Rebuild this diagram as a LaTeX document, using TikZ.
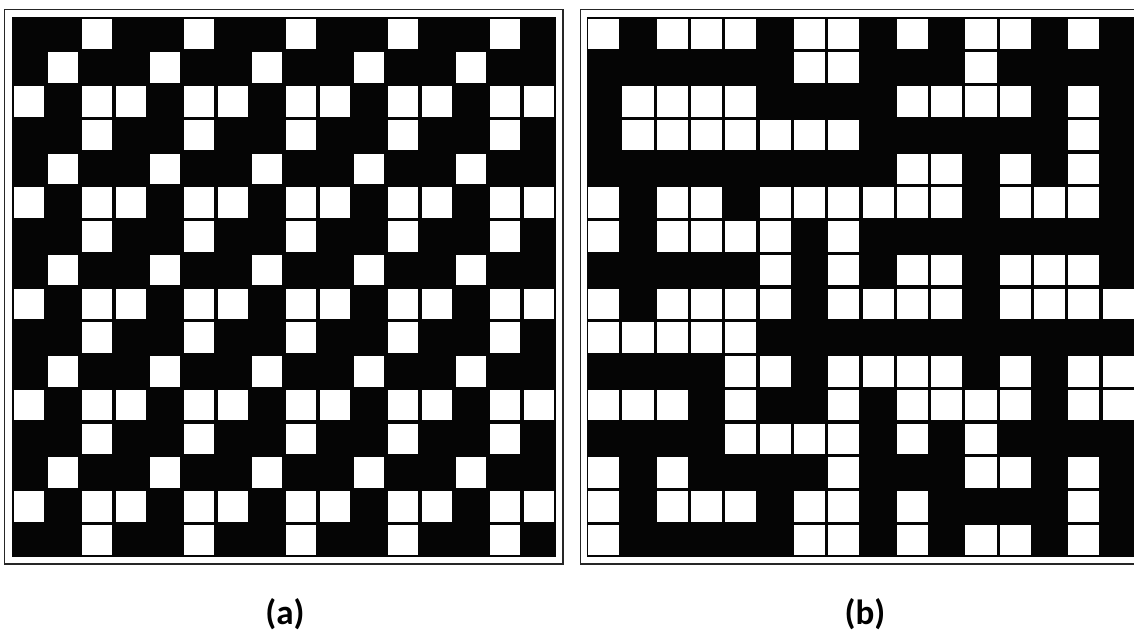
\documentclass[tikz,border=0pt]{standalone}
\usepackage{fontspec}
\setmainfont{Carlito}
\begin{document}
\begin{tikzpicture}[x=1pt,y=-1pt]
\tikzset{
  frame/.style={draw=black!85,line width=1.4pt},
  field/.style={fill=black!98},
  cellw/.style={fill=white},
  lab/.style={font=\bfseries\fontsize{35}{37}\selectfont, inner sep=0pt}
}
\useasboundingbox (0,0) rectangle (1134,632);
\clip (0,0) rectangle (1134,632);
% ---------- panel (a) ----------
\draw[frame] (4.5,9.5) rectangle (563,564);
\fill[field] (12,17) rectangle (556,557);
\def\cwa{34}\def\cha{33.75}
\foreach \r/\cols in {0/{2,5,8,11,14},1/{1,4,7,10,13},2/{0,2,3,5,6,8,9,11,12,14,15},
  3/{2,5,8,11,14},4/{1,4,7,10,13},5/{0,2,3,5,6,8,9,11,12,14,15},
  6/{2,5,8,11,14},7/{1,4,7,10,13},8/{0,2,3,5,6,8,9,11,12,14,15},
  9/{2,5,8,11,14},10/{1,4,7,10,13},11/{0,2,3,5,6,8,9,11,12,14,15},
  12/{2,5,8,11,14},13/{1,4,7,10,13},14/{0,2,3,5,6,8,9,11,12,14,15},
  15/{2,5,8,11,14}}{
  \foreach \c in \cols {
    \fill[cellw] ({12+\c*\cwa+1.6},{17+\r*\cha+1.6}) rectangle ++({\cwa-3.2},{\cha-3.2});
  }
}
% ---------- panel (b) ----------
\draw[frame] (580.5,9.5) rectangle (1143,564);
\fill[field] (586.5,17) rectangle (1135.3,557);
\def\cwb{34.3}\def\chb{33.75}
\foreach \r/\cols in {0/{0,2,3,4,6,7,9,11,12,14},1/{6,7,11},2/{1,2,3,4,9,10,11,12,14},
  3/{1,2,3,4,5,6,7,14},4/{9,10,12,14},5/{0,2,3,5,6,7,8,9,10,12,13,14},
  6/{0,2,3,4,5,7},7/{5,7,9,10,12,13,14},8/{0,2,3,4,5,7,8,9,10,12,13,14,15},
  9/{0,1,2,3,4},10/{4,5,7,8,9,10,12,14,15},11/{0,1,2,4,7,9,10,11,12,14,15},
  12/{4,5,6,7,9,11},13/{0,2,7,11,12,14},14/{0,2,3,4,6,7,9,14},
  15/{0,6,7,9,11,12,14}}{
  \foreach \c in \cols {
    \fill[cellw] ({586.5+\c*\cwb+1.6},{17+\r*\chb+1.6}) rectangle ++({\cwb-3.2},{\chb-3.2});
  }
}
% ---------- labels ----------
\node[lab] (la) at (285,614) {(a)};
\node[lab] (lb) at (865,614) {(b)};
\end{tikzpicture}
\end{document}
